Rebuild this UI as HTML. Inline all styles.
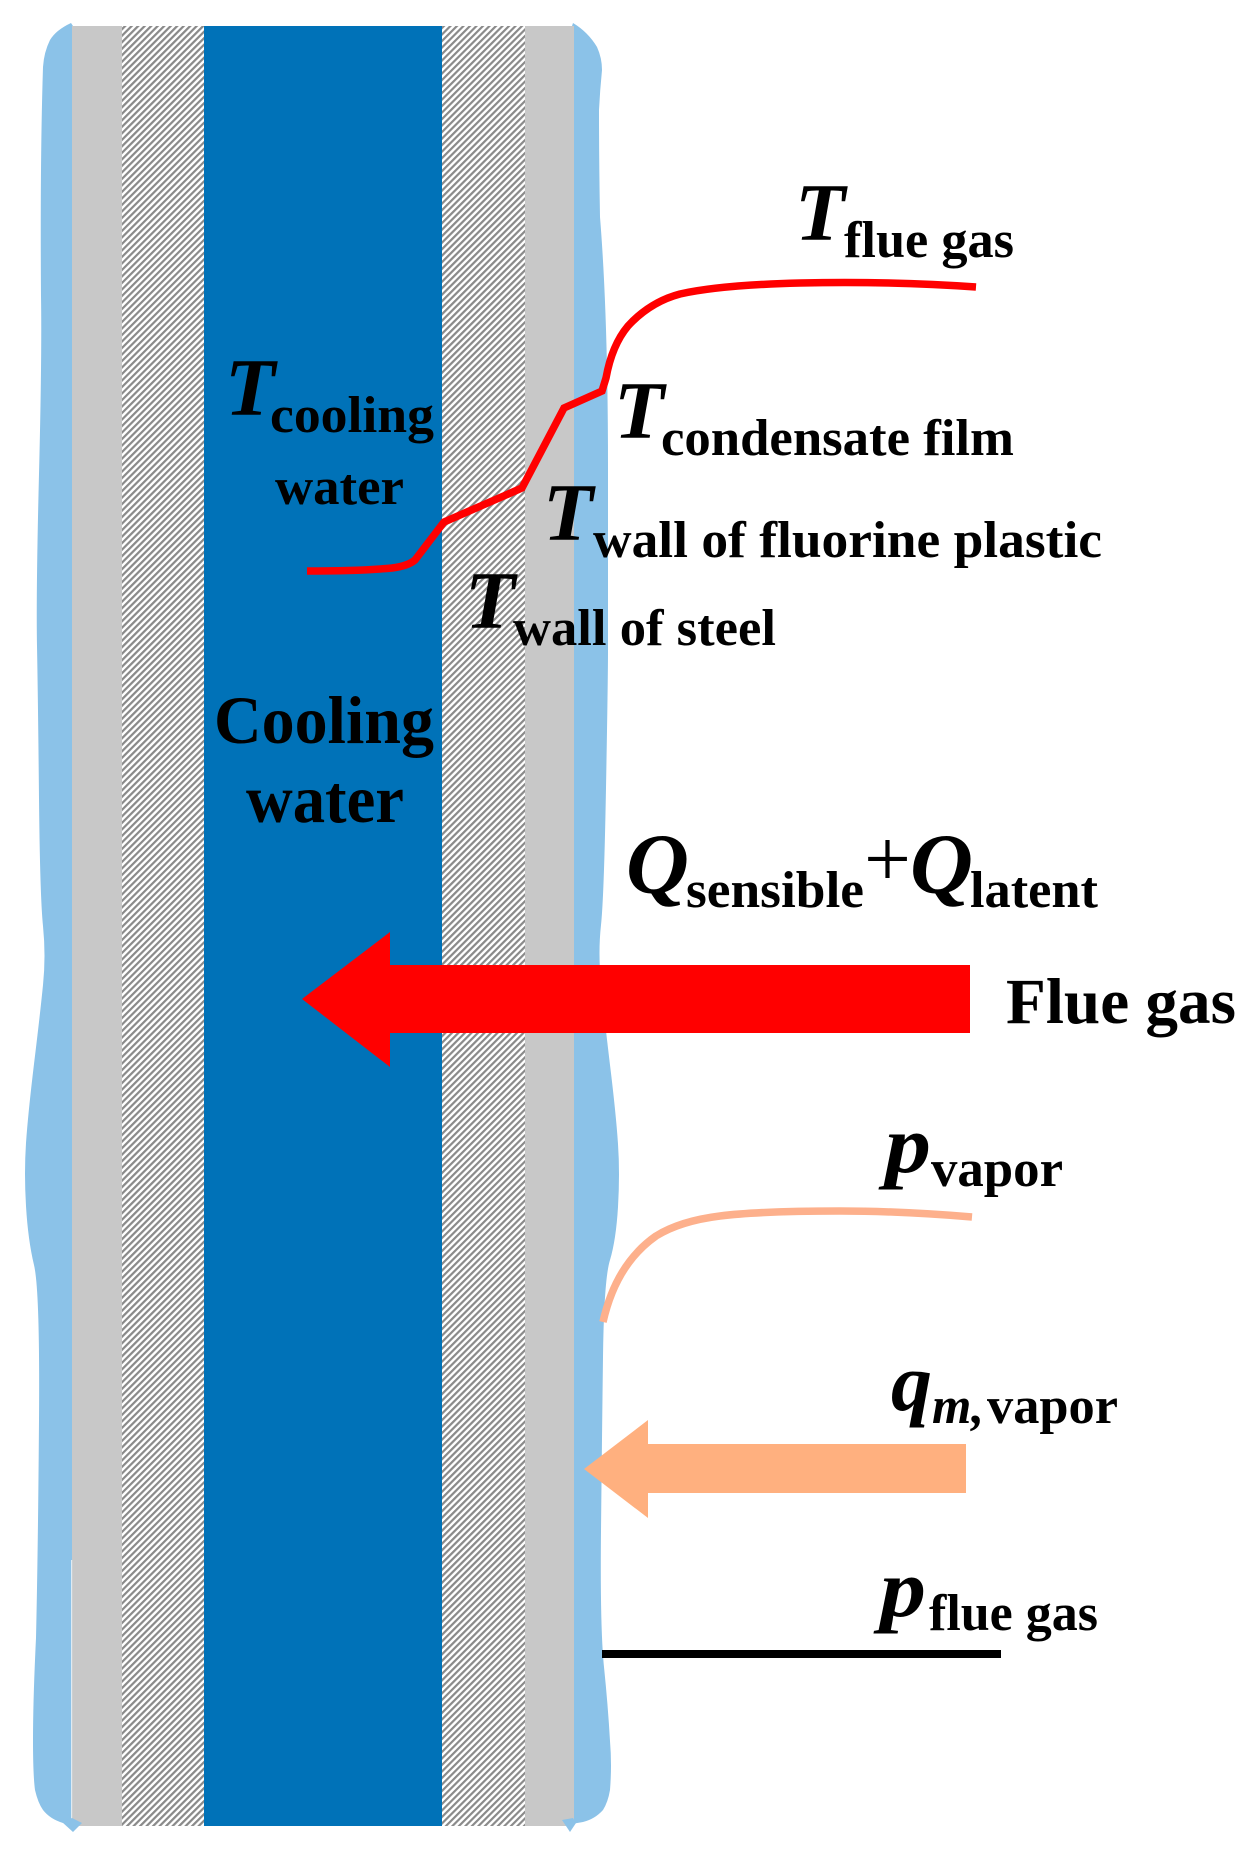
<!DOCTYPE html>
<html><head><meta charset="utf-8"><style>
html,body{margin:0;padding:0;background:#fff;width:1255px;height:1849px;overflow:hidden}
svg{display:block}
text{font-family:"Liberation Serif",serif;font-weight:bold;fill:#000}
.i{font-style:italic}
.b{font-size:82px}
.s{font-size:52px}
</style></head><body>
<svg width="1255" height="1849" viewBox="0 0 1255 1849" xmlns="http://www.w3.org/2000/svg">
<defs>
<pattern id="h" width="4.6" height="4.6" patternUnits="userSpaceOnUse" patternTransform="rotate(45)">
<rect width="4.6" height="4.6" fill="#fff"/><rect width="2.2" height="4.6" fill="#8a8a8a"/>
</pattern>
</defs>
<path fill="#8bc2e8" d="M71 23 Q56 30 50 40 Q44 52 43 67 Q40 160 41 296 Q42 356 39 474 Q36 593 37 646 Q38 699 39 798 Q40 897 43 926 Q46 956 43 985 Q40 1015 34 1064 Q28 1114 26 1143 Q24 1173 26 1206 Q28 1240 34 1265 Q40 1290 39 1420 Q38 1551 36 1638 Q33 1700 33 1740 Q33 1775 35 1790 Q38 1803 43 1810 Q50 1819 63 1823 L80 1826 L80 26 L73 26 Z"/>
<path fill="#8bc2e8" d="M573 23 Q588 32 597 47 Q602 58 602 70 Q600 90 599 110 Q599 160 600 217 Q608 316 608 468 Q608 620 608 650 Q608 679 606 788 Q604 897 601 925 Q598 952 601 984 Q604 1015 610 1065 Q616 1114 618 1144 Q620 1173 618 1207 Q616 1240 610 1260 Q604 1279 603 1357 Q602 1434 601 1531 Q600 1628 604 1667 Q608 1706 610 1741 Q612 1765 610 1790 Q608 1802 603 1810 Q595 1819 583 1822 L560 1826 L560 26 L572 26 Z"/>
<rect x="72" y="26" width="50" height="1800" fill="#c8c8c8"/>
<rect x="122" y="26" width="82" height="1800" fill="url(#h)"/>
<rect x="204" y="26" width="238" height="1800" fill="#0072b8"/>
<rect x="442" y="26" width="83" height="1800" fill="url(#h)"/>
<rect x="525" y="26" width="49" height="1800" fill="#c8c8c8"/>
<rect x="71" y="1560" width="1.2" height="260" fill="#dfeaf2"/>
<polygon points="62,1822 72,1818 82,1823 73,1832" fill="#8bc2e8"/>
<polygon points="562,1820 573,1818 576,1823 570,1832" fill="#8bc2e8"/>

<path d="M307 571 Q360 571 392 568 Q408 566 415 560 L444 522 L522 488 L564 408 L602 391 L606 378 Q612 345 628 326 Q650 302 680 294 Q720 285 800 283 Q890 281 976 287" fill="none" stroke="#ff0000" stroke-width="7.5"/>
<polygon points="302,999 390,932 390,965 970,965 970,1033 390,1033 390,1067" fill="#ff0000"/>
<path d="M972 1217 Q900 1211 840 1211 Q760 1211 720 1216 Q680 1221 656 1236 Q616 1264 603 1322" fill="none" stroke="#fdb08c" stroke-width="7.5"/>
<polygon points="584,1469 648,1420 648,1444 966,1444 966,1493 648,1493 648,1518" fill="#ffb07f"/>
<rect x="602" y="1650" width="399" height="8" fill="#000"/>

<text class="b i" x="795" y="240">T</text>
<text class="s" x="844" y="257" textLength="170" lengthAdjust="spacingAndGlyphs">flue gas</text>
<text class="b i" x="225" y="415">T</text>
<text class="s" x="270" y="432" textLength="164" lengthAdjust="spacingAndGlyphs">cooling</text>
<text class="s" x="275" y="504" textLength="129" lengthAdjust="spacingAndGlyphs">water</text>
<text class="b i" x="614" y="438">T</text>
<text class="s" x="661" y="455" textLength="353" lengthAdjust="spacingAndGlyphs">condensate film</text>
<text class="b i" x="543" y="540">T</text>
<text class="s" x="593" y="557" textLength="509" lengthAdjust="spacingAndGlyphs">wall of fluorine plastic</text>
<text class="b i" x="465" y="628">T</text>
<text class="s" x="513" y="645" textLength="263" lengthAdjust="spacingAndGlyphs">wall of steel</text>

<text x="214" y="743" font-size="68" textLength="220" lengthAdjust="spacingAndGlyphs">Cooling</text>
<text x="246" y="822" font-size="68" textLength="158" lengthAdjust="spacingAndGlyphs">water</text>

<text class="i" font-size="86" x="626" y="893" textLength="63" lengthAdjust="spacingAndGlyphs">Q</text>
<text class="s" x="686" y="907" textLength="178" lengthAdjust="spacingAndGlyphs">sensible</text>
<text x="864" y="886" font-size="82" style="font-weight:normal" textLength="47" lengthAdjust="spacingAndGlyphs">+</text>
<text class="i" font-size="86" x="910" y="893" textLength="63" lengthAdjust="spacingAndGlyphs">Q</text>
<text class="s" x="970" y="907" textLength="128" lengthAdjust="spacingAndGlyphs">latent</text>

<text x="1006" y="1023" font-size="65" textLength="230" lengthAdjust="spacingAndGlyphs">Flue gas</text>

<text class="b i" x="885" y="1172" textLength="46" lengthAdjust="spacingAndGlyphs">p</text>
<text class="s" x="931" y="1186" textLength="132" lengthAdjust="spacingAndGlyphs">vapor</text>

<text class="b i" x="891" y="1410">q</text>
<text class="s i" x="932" y="1423" textLength="52" lengthAdjust="spacingAndGlyphs">m,</text>
<text class="s" x="987" y="1423" textLength="131" lengthAdjust="spacingAndGlyphs">vapor</text>

<text class="b i" x="880" y="1616" textLength="46" lengthAdjust="spacingAndGlyphs">p</text>
<text class="s" x="929" y="1630" textLength="169" lengthAdjust="spacingAndGlyphs">flue gas</text>
</svg>
</body></html>
